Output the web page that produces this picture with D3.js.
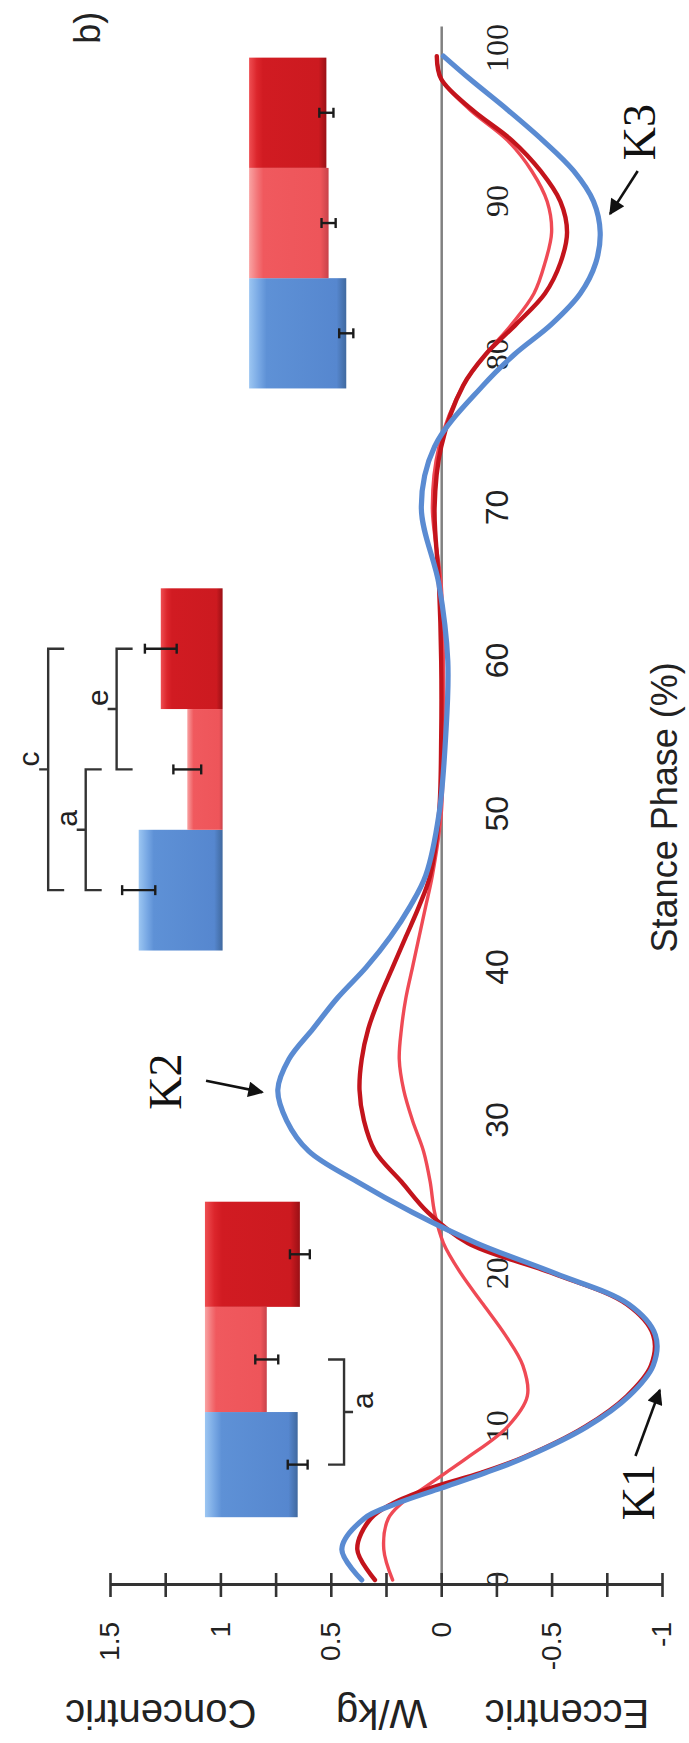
<!DOCTYPE html>
<html>
<head>
<meta charset="utf-8">
<script src="https://cdn.jsdelivr.net/npm/d3@7"></script>
<style>
  body { margin: 0; background: #fff; }
  svg { display: block; }
</style>
</head>
<body>
<svg id="chart" width="689" height="1743"></svg>
<script>
'use strict';

// stance phase (%) where the three power curves were read
var phase = [0, 2, 4, 5, 6, 7, 8, 10, 12, 14, 16, 18, 20, 22, 24, 26, 28, 30, 32, 34, 36, 38, 40, 42, 44, 46,
             50, 55, 60, 65, 70, 74, 78, 80, 82, 84, 86, 88, 90, 92, 94, 96, 98, 99.5];

// knee power (W/kg)
var powerBlue = [0.36, 0.45, 0.35, 0.20, 0.00, -0.20, -0.38, -0.66, -0.85, -0.96, -0.97, -0.85, -0.52, -0.16, 0.13, 0.38, 0.60, 0.70, 0.74, 0.69, 0.58, 0.47, 0.34, 0.23, 0.14, 0.07,
                 0.01, -0.02, -0.03, 0.01, 0.09, 0.03, -0.19, -0.33, -0.50, -0.63, -0.70, -0.72, -0.69, -0.60, -0.46, -0.30, -0.13, -0.01];
var powerDark = [0.30, 0.38, 0.32, 0.22, 0.05, -0.18, -0.37, -0.65, -0.84, -0.95, -0.96, -0.84, -0.51, -0.12, 0.06, 0.18, 0.30, 0.35, 0.37, 0.36, 0.33, 0.28, 0.22, 0.16, 0.10, 0.05,
                 0.01, 0.00, 0.00, 0.01, 0.03, 0.00, -0.10, -0.20, -0.34, -0.47, -0.54, -0.57, -0.54, -0.45, -0.32, -0.14, 0.00, 0.02];
var powerLight = [0.22, 0.26, 0.24, 0.18, 0.08, -0.02, -0.12, -0.30, -0.39, -0.37, -0.29, -0.19, -0.09, -0.01, 0.03, 0.05, 0.08, 0.13, 0.17, 0.19, 0.18, 0.16, 0.13, 0.10, 0.07, 0.04,
                  0.00, -0.01, -0.01, 0.00, 0.04, 0.01, -0.10, -0.20, -0.32, -0.42, -0.47, -0.50, -0.48, -0.41, -0.30, -0.13, 0.00, 0.02];

// peak bars (blue, light red, dark red) and their error
var peaks = ['K1', 'K2', 'K3'];
var barBlue = [0.42, 0.38, 0.44];
var barLight = [0.28, 0.16, 0.36];
var barDark = [0.43, 0.28, 0.35];
var errBlue = [0.045, 0.075, 0.032];
var errLight = [0.052, 0.063, 0.032];
var errDark = [0.045, 0.072, 0.032];

var phaseTicks = [0, 10, 20, 30, 40, 50, 60, 70, 80, 90, 100];
var serifTicks = [0, 10, 20, 80, 90, 100];

// where each little bar group sits (phase span, baseline in W/kg, grow direction)
var barGroups = [
    {from: 4.1, to: 24.7, base: 1.07, dir: -1},
    {from: 41.1, to: 64.75, base: 0.99, dir: 1},
    {from: 77.8, to: 99.4, base: 0.87, dir: -1}
];
// significance brackets: group, two bars, label, level (W/kg)
var brackets = [
    {group: 0, a: 0, b: 1, label: 'a', at: 0.44},
    {group: 1, a: 1, b: 2, label: 'e', at: 1.47},
    {group: 1, a: 0, b: 1, label: 'a', at: 1.61},
    {group: 1, a: 0, b: 2, label: 'c', at: 1.78}
];
var peakNotes = [
    {text: 'K1', phase: 3.9, value: -0.965, tail: [8.1, -0.88], head: [12.4, -0.99]},
    {text: 'K2', phase: 30.7, value: 1.18, tail: [32.6, 1.065], head: [31.85, 0.81]},
    {text: 'K3', phase: 92.7, value: -0.968, tail: [92.0, -0.89], head: [89.2, -0.765]}
];

var SANS = '"Liberation Sans", Arial, sans-serif';
var SERIF = '"Liberation Serif", "Times New Roman", serif';
var colBlue = '#5a8bd2', colDark = '#c3141c', colLight = '#ef4a55';

var svg = d3.select('#chart');
svg.append('rect').attr('width', 689).attr('height', 1743).attr('fill', '#fff');

var x = d3.scaleLinear().domain([0, 101.4]).range([0, 1553]);
var y = d3.scaleLinear().domain([1.5, -1]).range([0, 552]);

// gradients for the bevelled bars
var defs = svg.append('defs');
function grad(id, stops) {
    var lg = defs.append('linearGradient').attr('id', id)
        .attr('x1', 0).attr('y1', 0).attr('x2', 0).attr('y2', 1);
    stops.forEach(function(s) {
        lg.append('stop').attr('offset', s[0]).attr('stop-color', s[1]);
    });
}
grad('gBlue', [[0, '#9cc6f2'], [0.1, '#78a8e4'], [0.18, '#5e91d6'], [0.9, '#5687cf'], [1, '#40699f']]);
grad('gLight', [[0, '#f9a3a3'], [0.1, '#f3777a'], [0.18, '#f0595e'], [0.9, '#ee555a'], [1, '#c8424a']]);
grad('gDark', [[0, '#ee4e52'], [0.1, '#dc262c'], [0.18, '#d11b22'], [0.9, '#cc1a20'], [1, '#9a1015']]);

defs.append('marker').attr('id', 'arrow')
    .attr('viewBox', '0 0 10 10').attr('refX', 9).attr('refY', 5)
    .attr('markerWidth', 7).attr('markerHeight', 6).attr('orient', 'auto')
    .append('path').attr('d', 'M0,0L10,5L0,10z').attr('fill', '#111');

// the figure is printed a quarter turn round: build it upright, then rotate
var g = svg.append('g').attr('transform', 'translate(110,1580) rotate(-90)');

// bars
var barVals = [barBlue, barLight, barDark];
var errVals = [errBlue, errLight, errDark];
var fills = ['url(#gBlue)', 'url(#gLight)', 'url(#gDark)'];
var bands = barGroups.map(function(gr) {
    return d3.scaleBand().domain([0, 1, 2]).range([x(gr.from), x(gr.to)]);
});

peaks.forEach(function(p, k) {
    var gr = barGroups[k], band = bands[k];
    var bg = g.append('g').attr('class', 'bars ' + p);
    [0, 1, 2].forEach(function(i) {
        var end = gr.base + gr.dir * barVals[i][k];
        var e = errVals[i][k];
        bg.append('rect')
            .attr('x', band(i))
            .attr('width', band.bandwidth())
            .attr('y', Math.min(y(gr.base), y(end)))
            .attr('height', Math.abs(y(gr.base) - y(end)))
            .attr('fill', fills[i]);
        var cu = band(i) + band.bandwidth() / 2;
        bg.append('line')
            .attr('x1', cu).attr('x2', cu)
            .attr('y1', y(end - e)).attr('y2', y(end + e))
            .attr('stroke', '#1b1b1b').attr('stroke-width', 2.4);
        [end - e, end + e].forEach(function(v) {
            bg.append('line')
                .attr('x1', cu - 5).attr('x2', cu + 5)
                .attr('y1', y(v)).attr('y2', y(v))
                .attr('stroke', '#1b1b1b').attr('stroke-width', 2.4);
        });
    });
});

// brackets
brackets.forEach(function(b) {
    var gr = barGroups[b.group], band = bands[b.group];
    var u1 = band(b.a) + band.bandwidth() / 2;
    var u2 = band(b.b) + band.bandwidth() / 2;
    var um = (u1 + u2) / 2;
    var v0 = y(b.at);
    var h = y(gr.base) > v0 ? 1 : -1;
    var hook = 16, tick = 9;
    g.append('path')
        .attr('d', 'M' + u1 + ',' + (v0 + h * hook) + 'L' + u1 + ',' + v0 + 'L' + u2 + ',' + v0 + 'L' + u2 + ',' + (v0 + h * hook)
            + 'M' + um + ',' + v0 + 'L' + um + ',' + (v0 - h * tick))
        .attr('fill', 'none').attr('stroke', '#333').attr('stroke-width', 2.4);
    var tipV = v0 - h * tick;
    g.append('text')
        .attr('x', um + 3)
        .attr('y', h < 0 ? tipV + 4 + 0.52 * 30 : tipV)
        .attr('font-family', SANS).attr('font-size', 30).attr('fill', '#222')
        .text(b.label);
});

// x axis along zero power
var xAxis = d3.axisBottom(x).tickValues(phaseTicks)
    .tickSizeInner(0).tickSizeOuter(0).tickPadding(44);
var xg = g.append('g').attr('transform', 'translate(0,' + y(0) + ')').call(xAxis);
xg.select('.domain').attr('stroke', '#808080').attr('stroke-width', 2.5);
xg.selectAll('text')
    .attr('font-size', 32).attr('fill', '#222')
    .attr('font-family', function(d) { return serifTicks.indexOf(d) >= 0 ? SERIF : SANS; });

// power curves
var line = d3.line()
    .x(function(d) { return x(d[0]); })
    .y(function(d) { return y(d[1]); })
    .curve(d3.curveCatmullRom.alpha(0.5));

[[powerLight, colLight, 3.4], [powerDark, colDark, 4.4], [powerBlue, colBlue, 5.2]].forEach(function(s) {
    g.append('path')
        .datum(phase.map(function(p, i) { return [p, s[0][i]]; }))
        .attr('d', line)
        .attr('fill', 'none')
        .attr('stroke', s[1])
        .attr('stroke-width', s[2])
        .attr('stroke-linecap', 'round');
});

// y axis (W/kg)
var yAxis = d3.axisLeft(y)
    .tickValues(d3.range(-1, 1.51, 0.25))
    .tickSizeInner(12).tickSizeOuter(0).tickPadding(25)
    .tickFormat(function(d) { return Math.round(d * 4) % 2 === 0 ? String(+d.toFixed(2)) : ''; });
var yg = g.append('g').attr('transform', 'translate(-5,0)').call(yAxis);
yg.select('.domain').attr('stroke', '#333').attr('stroke-width', 3);
yg.selectAll('.tick line').attr('x1', -12).attr('x2', 12).attr('stroke', '#333').attr('stroke-width', 2.6);
yg.selectAll('text').attr('font-family', SANS).attr('font-size', 28).attr('fill', '#222');

// axis titles
[['Concentric', 1.27], ['W/kg', 0.27], ['Eccentric', -0.57]].forEach(function(t) {
    g.append('text')
        .attr('transform', 'translate(-120,' + y(t[1]) + ') rotate(-90)')
        .attr('text-anchor', 'middle')
        .attr('font-family', SANS).attr('font-size', 40).attr('fill', '#222')
        .text(t[0]);
});
g.append('text')
    .attr('x', x(50.45)).attr('y', 567)
    .attr('text-anchor', 'middle')
    .attr('font-family', SANS).attr('font-size', 36).attr('fill', '#222')
    .text('Stance Phase (%)');

// K1 / K2 / K3 notes
peakNotes.forEach(function(n) {
    g.append('text')
        .attr('x', x(n.phase)).attr('y', y(n.value))
        .attr('font-family', SERIF).attr('font-size', 46).attr('fill', '#111')
        .text(n.text);
    g.append('line')
        .attr('x1', x(n.tail[0])).attr('y1', y(n.tail[1]))
        .attr('x2', x(n.head[0])).attr('y2', y(n.head[1]))
        .attr('stroke', '#111').attr('stroke-width', 2.6)
        .attr('marker-end', 'url(#arrow)');
});

// panel letter
g.append('text')
    .attr('x', x(100.3)).attr('y', -10)
    .attr('font-family', SANS).attr('font-size', 36).attr('fill', '#222')
    .text('b)');
</script>
</body>
</html>
